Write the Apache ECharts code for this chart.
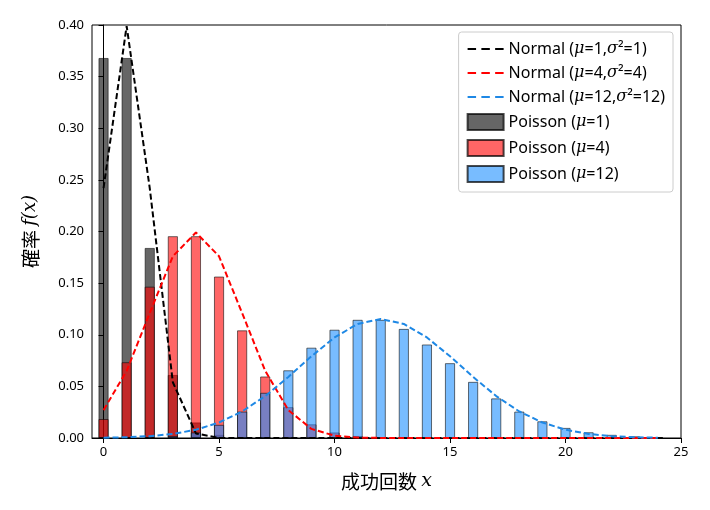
<!DOCTYPE html><html><head><meta charset="utf-8"><script src="https://cdn.jsdelivr.net/npm/echarts@6/dist/echarts.min.js"></script></head><body style="margin:0"><div id="c" style="width:710px;height:510px"></div><script>
const xs=[0,1,2,3,4,5,6,7,8,9,10,11,12,13,14,15,16,17,18,19,20,21,22,23,24];
const pois1=[0.368,0.368,0.184,0.061,0.015,0.003,0.0005,0.0001,0,0,0,0,0,0,0,0,0,0,0,0,0,0,0,0,0];
const pois4=[0.0183,0.0733,0.1465,0.1954,0.1954,0.1563,0.1042,0.0595,0.0298,0.0132,0.0053,0.0019,0.0006,0.0002,0.0001,0,0,0,0,0,0,0,0,0,0];
const pois12=[0.00001,0.00007,0.0004,0.0018,0.0053,0.0127,0.0255,0.0437,0.0655,0.0874,0.1048,0.1144,0.1144,0.1056,0.0905,0.0724,0.0543,0.0383,0.0255,0.0161,0.0097,0.0055,0.0030,0.0016,0.0008];
const norm1=[0.242,0.399,0.242,0.054,0.0044,0.0001,0,0,0,0,0,0,0,0,0,0,0,0,0,0,0,0,0,0,0];
const norm4=[0.027,0.065,0.121,0.176,0.199,0.176,0.121,0.065,0.027,0.0088,0.0022,0.0004,0.0001,0,0,0,0,0,0,0,0,0,0,0,0];
const norm12=[0.00029,0.00075,0.0018,0.0039,0.0080,0.0150,0.0257,0.0406,0.0591,0.0791,0.0974,0.1105,0.1152,0.1105,0.0974,0.0791,0.0591,0.0406,0.0257,0.0150,0.0080,0.0039,0.0018,0.00075,0.00029];
const xTicks=[0,5,10,15,20,25];
const pair=a=>xs.map((x,i)=>[x,a[i]]);
const rich={i:{fontStyle:'italic',fontFamily:'DejaVu Serif',fontSize:16,color:'#000'},n:{fontFamily:'Noto Sans',fontSize:16,color:'#000'}};
const names=['Normal (μ=1, σ²=1)','Normal (μ=4, σ²=4)','Normal (μ=12, σ²=12)','Poisson (μ=1)','Poisson (μ=4)','Poisson (μ=12)'];
const fmt={};
fmt[names[0]]='{n|Normal (}{i|μ}{n|=1,}{i|σ}{n|²=1)}';
fmt[names[1]]='{n|Normal (}{i|μ}{n|=4,}{i|σ}{n|²=4)}';
fmt[names[2]]='{n|Normal (}{i|μ}{n|=12,}{i|σ}{n|²=12)}';
fmt[names[3]]='{n|Poisson (}{i|μ}{n|=1)}';
fmt[names[4]]='{n|Poisson (}{i|μ}{n|=4)}';
fmt[names[5]]='{n|Poisson (}{i|μ}{n|=12)}';
const line=(n,d,c)=>({name:n,type:'line',data:pair(d),symbol:'none',lineStyle:{type:[6,3],width:2,color:c},itemStyle:{color:c},z:5});
const bar=(n,d,c)=>({name:n,type:'bar',data:pair(d),barWidth:10,barGap:'-100%',itemStyle:{color:c,borderColor:'rgba(0,0,0,0.7)',borderWidth:0.8}});
const ch=echarts.init(document.getElementById('c'));
ch.setOption({animation:false,
grid:{left:92,right:29,top:25,bottom:72,show:true,borderColor:'#000',borderWidth:1},
xAxis:{type:'value',min:-0.5,max:25,name:'成功回数 {i|x}',nameLocation:'middle',nameGap:34,nameTextStyle:{fontSize:19,color:'#000',fontFamily:'Noto Sans CJK JP',rich:{i:{fontStyle:'italic',fontFamily:'DejaVu Serif',fontSize:19}}},
axisLine:{onZero:false,lineStyle:{color:'#000'}},splitLine:{show:false},
axisTick:{customValues:xTicks,lineStyle:{color:'#000'}},axisLabel:{customValues:xTicks,color:'#000',fontSize:13,fontFamily:'Noto Sans'}},
yAxis:{type:'value',min:0,max:0.4,interval:0.05,name:'確率 {i|f(x)}',nameLocation:'middle',nameGap:52,nameTextStyle:{fontSize:19,color:'#000',fontFamily:'Noto Sans CJK JP',rich:{i:{fontStyle:'italic',fontFamily:'DejaVu Serif',fontSize:18}}},
axisLine:{show:true,lineStyle:{color:'#000'}},axisTick:{show:true,lineStyle:{color:'#000'}},splitLine:{show:false},
axisLabel:{color:'#000',fontSize:13,fontFamily:'Noto Sans',formatter:v=>v.toFixed(2)}},
legend:{right:37,top:32,orient:'vertical',itemGap:8,itemWidth:36,itemHeight:16,backgroundColor:'#fff',borderColor:'#ccc',borderWidth:1,borderRadius:3,padding:[9,8],
data:names.map((n,i)=>i<3?{name:n,icon:'path://M0,7h8v2h-8zM13,7h8v2h-8zM26,7h8v2h-8z'}:{name:n,icon:'rect'}),
formatter:n=>fmt[n],textStyle:{rich,color:'#000'}},
series:[line(names[0],norm1,'#000'),line(names[1],norm4,'#f00'),line(names[2],norm12,'#1e88e5'),
bar(names[3],pois1,'rgba(0,0,0,0.6)'),bar(names[4],pois4,'rgba(255,0,0,0.6)'),bar(names[5],pois12,'rgba(30,144,255,0.6)')]});
</script></body></html>
